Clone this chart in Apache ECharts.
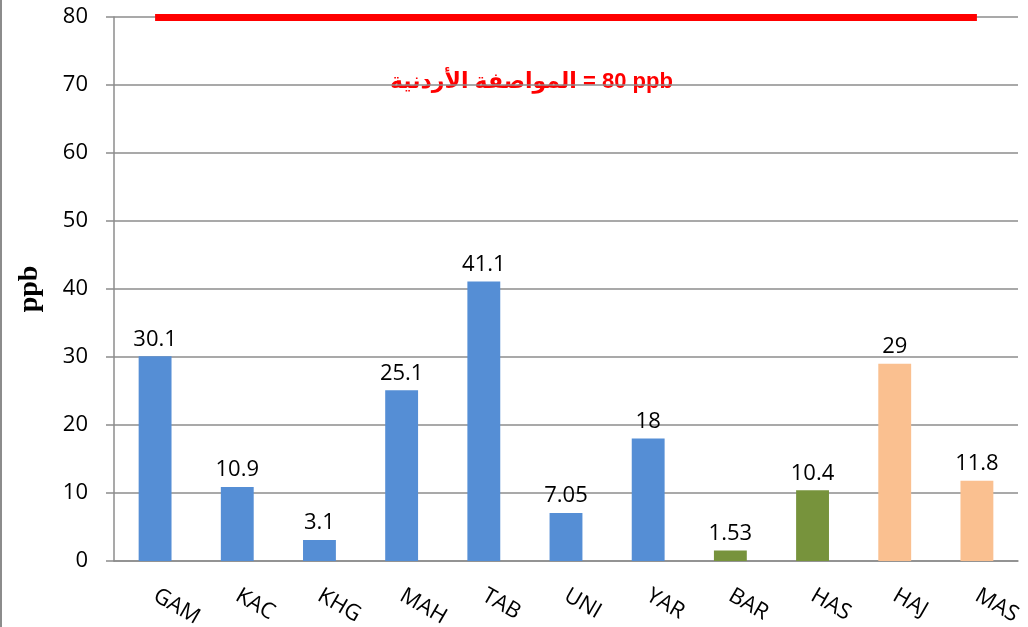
<!DOCTYPE html>
<html>
<head>
<meta charset="utf-8">
<script src="https://cdn.jsdelivr.net/npm/echarts@6/dist/echarts.min.js"></script>
<style>
  html, body { margin: 0; padding: 0; background: #fff; }
  #chart { width: 1028px; height: 627px; }
</style>
</head>
<body>
<div id="chart"></div>
<script>
var sites = ['GAM', 'KAC', 'KHG', 'MAH', 'TAB', 'UNI', 'YAR', 'BAR', 'HAS', 'HAJ', 'MAS'];
var values = [30.1, 10.9, 3.1, 25.1, 41.1, 7.05, 18, 1.53, 10.4, 29, 11.8];
var groups = ['a', 'a', 'a', 'a', 'a', 'a', 'a', 'b', 'b', 'c', 'c'];
var limitValue = 80;
// LRM keeps "80 ppb" on the right of the Arabic run
var limitText = 'المواصفة الأردنية \u200E= 80 ppb';

var groupColor = { a: '#558ED5', b: '#77933C', c: '#FAC090' };
var axisGray = '#8c8c8c';
var baseFont = '"Open Sans", sans-serif';

var myChart = echarts.init(document.getElementById('chart'));

var option = {
    animation: false,
    grid: { left: 114, right: 10, top: 17, bottom: 66, outerBoundsMode: 'none', containLabel: false },
    graphic: [
        {
            type: 'line',
            shape: { x1: 1, y1: 0, x2: 1, y2: 627 },
            style: { stroke: axisGray, lineWidth: 2 }
        },
        {
            type: 'text',
            left: 390,
            top: 71,
            style: {
                text: limitText,
                fill: '#ff0000',
                font: 'bold 22px "Liberation Sans", "DejaVu Sans", sans-serif'
            }
        }
    ],
    xAxis: {
        type: 'category',
        data: sites,
        axisLine: { lineStyle: { color: axisGray, width: 1.5 } },
        axisTick: { length: 7, lineStyle: { color: axisGray, width: 1.5 } },
        axisLabel: {
            rotate: -30,
            margin: 33,
            fontSize: 22,
            color: '#000',
            fontFamily: baseFont
        }
    },
    yAxis: {
        type: 'value',
        min: 0,
        max: 80,
        interval: 10,
        name: 'ppb',
        nameLocation: 'middle',
        nameGap: 70,
        nameRotate: 90,
        nameTextStyle: {
            fontFamily: '"Liberation Serif", serif',
            fontWeight: 'bold',
            fontSize: 28,
            color: '#000'
        },
        axisLine: { show: true, lineStyle: { color: axisGray, width: 1.5 } },
        axisTick: { show: true, length: 8, lineStyle: { color: axisGray, width: 1.5 } },
        splitLine: { lineStyle: { color: axisGray, width: 1.5 } },
        axisLabel: {
            margin: 26,
            fontSize: 22,
            color: '#000',
            fontFamily: baseFont
        }
    },
    series: [{
        type: 'bar',
        barWidth: '40%',
        data: values.map(function (v, i) {
            return { value: v, itemStyle: { color: groupColor[groups[i]] } };
        }),
        label: {
            show: true,
            position: 'top',
            distance: 6,
            fontSize: 22,
            color: '#000',
            fontFamily: baseFont
        },
        markLine: {
            symbol: 'none',
            silent: true,
            label: { show: false },
            lineStyle: { color: '#ff0000', width: 7, type: 'solid' },
            data: [[
                { coord: [sites[0], limitValue] },
                { coord: [sites[sites.length - 1], limitValue] }
            ]]
        }
    }]
};

myChart.setOption(option);
</script>
</body>
</html>
